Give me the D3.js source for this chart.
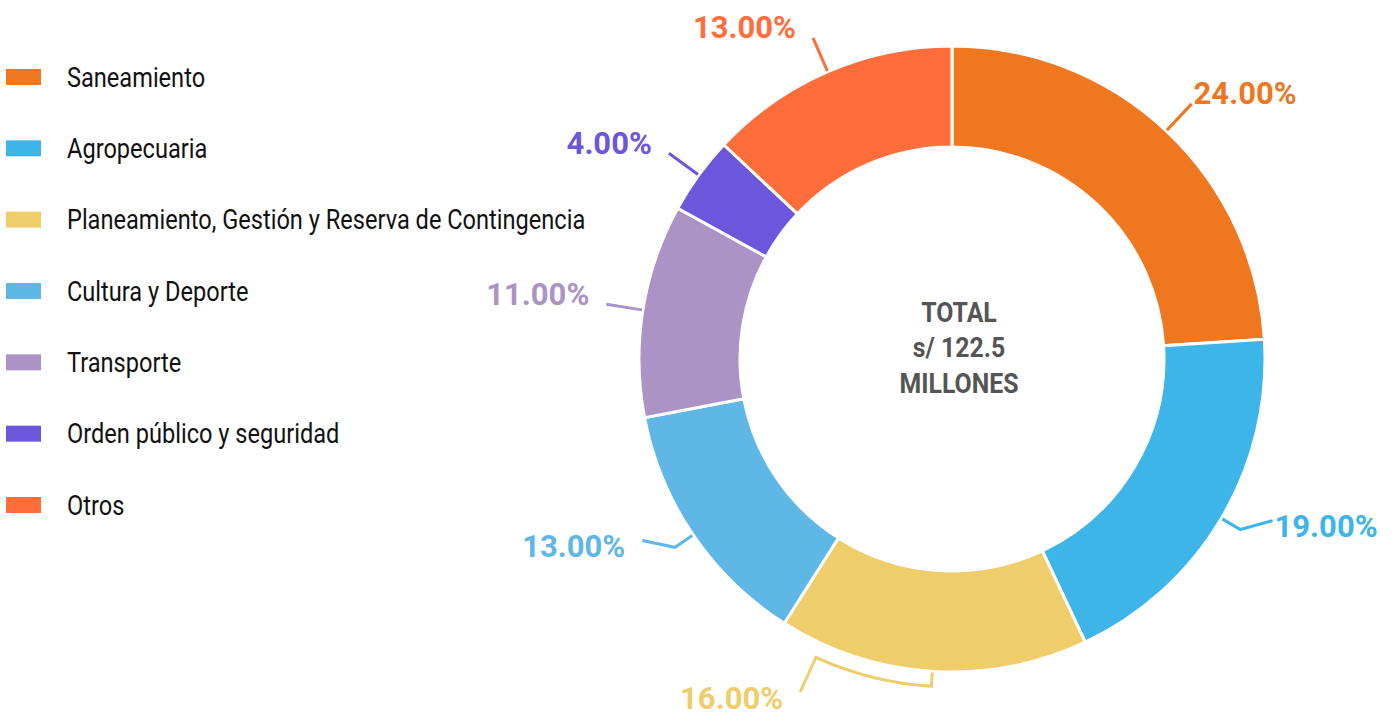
<!DOCTYPE html>
<html>
<head>
<meta charset="utf-8">
<script src="https://cdn.jsdelivr.net/npm/d3@7"></script>
<style>
  html, body { margin: 0; padding: 0; background: #ffffff; }
  svg { display: block; }
</style>
</head>
<body>
<svg id="chart" width="1395" height="713"></svg>
<script>
const categories = [
  "Saneamiento",
  "Agropecuaria",
  "Planeamiento, Gestión y Reserva de Contingencia",
  "Cultura y Deporte",
  "Transporte",
  "Orden público y seguridad",
  "Otros"
];
const values = [24, 19, 16, 13, 11, 4, 13];
const colors = ["#EE771F", "#3DB5E8", "#EFCD6A", "#5EB7E4", "#AB93C6", "#6C56DB", "#FF6D3B"];
const centerLines = ["TOTAL", "s/ 122.5", "MILLONES"];

const W = 1395, H = 713;
const svg = d3.select("#chart");
const cx = 952, cy = 359;
const R = 313, r0 = 212;

const data = categories.map((c, i) => ({ name: c, value: values[i], color: colors[i] }));
const pie = d3.pie().sort(null).value(d => d.value);
const arcs = pie(data);
const arc = d3.arc().innerRadius(r0).outerRadius(R);

const g = svg.append("g").attr("transform", `translate(${cx},${cy})`);
g.selectAll("path.slice").data(arcs).join("path")
  .attr("class", "slice")
  .attr("d", arc)
  .attr("fill", d => d.data.color)
  .attr("stroke", "#fff")
  .attr("stroke-width", 3);

// Center text
const ct = g.append("g");
ct.selectAll("text").data(centerLines).join("text")
  .attr("transform", (d, i) => `translate(7,${-11 + (i - 1) * 35.5}) scale(0.92,1)`)
  .attr("text-anchor", "middle")
  .attr("dominant-baseline", "central")
  .attr("font-family", "Roboto, sans-serif")
  .attr("font-weight", 700)
  .attr("font-size", 27)
  .attr("fill", "#555555")
  .text(d => d);

// Labels with leader lines
const pt = (rad, a) => [rad * Math.sin(a), -rad * Math.cos(a)];
const fmt = d3.format(".2f");
const bottomLimit = H - 21 - cy;
arcs.forEach(d => {
  const a = (d.startAngle + d.endAngle) / 2;
  const side = Math.sin(a) >= 0 ? 1 : -1;
  const lower = Math.cos(a) < 0;
  let pathD, end, dyText;
  const p0 = pt(R + 1, a);
  const farEnd = pt(R + 53, a);
  if (lower && farEnd[1] > bottomLimit) {
    // bracket: out, along the arc, out again
    const rr = R + 15;
    const ang2 = side < 0 ? Math.PI + Math.acos(bottomLimit / (R + 53)) : Math.PI - Math.acos(bottomLimit / (R + 53));
    const p1 = pt(rr, a);
    const p3 = pt(R + 53, ang2);
    const path = d3.path();
    path.moveTo(p0[0], p0[1]);
    path.lineTo(p1[0], p1[1]);
    const s = a - Math.PI / 2, e = ang2 - Math.PI / 2;
    path.arc(0, 0, rr, s, e, e < s);
    path.lineTo(p3[0], p3[1]);
    pathD = path.toString();
    end = p3; dyText = 6;
  } else if (lower) {
    const p1 = pt(R + 22, a);
    const p2 = pt(R + 46, a - side * 0.067);
    pathD = d3.line()([p0, p1, p2]);
    end = p2; dyText = 6;
  } else {
    const p1 = pt(R + 37, a);
    pathD = d3.line()([p0, p1]);
    end = p1; dyText = -10;
  }
  g.append("path")
    .attr("d", pathD)
    .attr("fill", "none")
    .attr("stroke", d.data.color)
    .attr("stroke-width", 3);
  g.append("text")
    .attr("x", end[0] + (side > 0 ? 2 : -17))
    .attr("y", end[1] + dyText)
    .attr("text-anchor", side > 0 ? "start" : "end")
    .attr("dominant-baseline", "central")
    .attr("font-family", "Roboto, sans-serif")
    .attr("font-weight", 700)
    .attr("font-size", 31)
    .attr("fill", d.data.color)
    .text(fmt(d.data.value) + "%");
});

// Legend
const legend = svg.append("g");
const rowY = d3.scalePoint().domain(categories).range([77, 505]);
const items = legend.selectAll("g").data(data).join("g")
  .attr("transform", d => `translate(0,${rowY(d.name)})`);
items.append("rect")
  .attr("x", 6).attr("y", -8).attr("width", 35).attr("height", 16)
  .attr("fill", d => d.color);
items.append("text")
  .attr("transform", "translate(67,0) scale(0.874,1)")
  .attr("dominant-baseline", "central")
  .attr("font-family", "Roboto, sans-serif")
  .attr("font-size", 27)
  .attr("fill", "#111111")
  .text(d => d.name);
</script>
</body>
</html>
